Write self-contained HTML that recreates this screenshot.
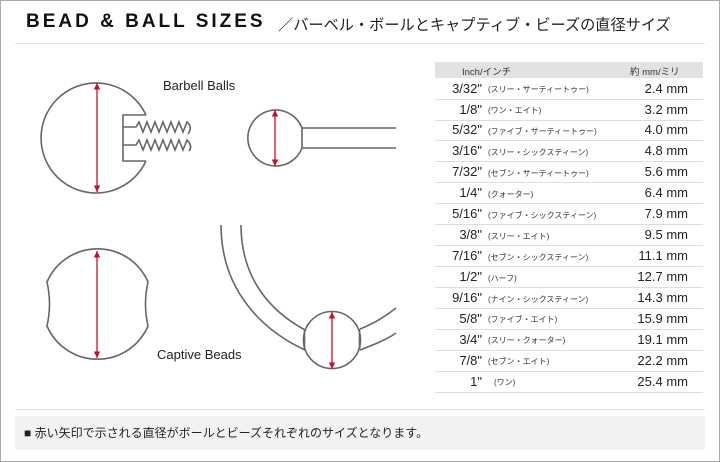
<!DOCTYPE html>
<html><head><meta charset="utf-8"><style>
body{margin:0;width:720px;height:462px;overflow:hidden;background:#fff;font-family:"Liberation Sans","Noto Sans CJK JP",sans-serif;}
.wrap{position:absolute;left:0;top:0;width:718px;height:460px;border:1px solid #aaa;}
.t{position:absolute;white-space:nowrap;}
</style></head><body>
<div class="wrap"></div>
<div class="t" style="left:26px;top:11px;font-size:19px;font-weight:bold;letter-spacing:3px;color:#111;">BEAD &amp; BALL SIZES</div>
<div class="t" style="left:278px;top:13px;font-size:15.2px;color:#222;">／バーベル・ボールとキャプティブ・ビーズの直径サイズ</div>
<div style="position:absolute;left:15px;top:43px;width:690px;height:1px;background:#e4e0da"></div>
<div style="position:absolute;left:15px;top:409px;width:690px;height:1px;background:#e4e0da"></div>
<div style="position:absolute;left:15px;top:416px;width:690px;height:34px;background:#f2f2f2"></div>
<div class="t" style="left:24px;top:424px;font-size:12px;color:#222;">■ 赤い矢印で示される直径がボールとビーズそれぞれのサイズとなります。</div>

<svg style="position:absolute;left:0;top:0" width="720" height="462">
<defs><marker id="a" viewBox="0 0 10 10" refX="10" refY="5" markerWidth="5" markerHeight="5" orient="auto-start-reverse"><path d="M0,0L10,5L0,10z" fill="#c8102e"/></marker></defs>
<g fill="none" stroke="#666" stroke-width="1.6">
<path d="M146,115 A55,55 0 1 0 146,161"/>
<path d="M146,115 L123,115 L123,161 L146,161"/>
<path d="M123,127 L136,127 L139,122 L143,132 L147,122 L151,132 L155,122 L159,132 L163,122 L167,132 L171,122 L175,132 L179,122 L183,132 L187,122 Q193,127 188,134"/>
<path d="M123,145 L136,145 L139,140 L143,150 L147,140 L151,150 L155,140 L159,150 L163,140 L167,150 L171,140 L175,150 L179,140 L183,150 L187,140 Q193,146 189,151"/>
<path d="M302,128 A28,28 0 1 0 302,148 Z"/>
<path d="M302,128 L396,128 M302,148 L396,148"/>
<path d="M47,282 A55,55 0 0 1 148,282 Q143,304 148,326 A55,55 0 0 1 47,326 Q52,304 47,282 Z"/>
<path d="M221,225 C221,290 262,330 305,350"/>
<path d="M241,225 C241,280 272,312 305,330"/>
<path d="M360,329 C373,324 386,316 396,308"/>
<path d="M360,350 C373,345 386,340 396,333"/>
<circle cx="332" cy="340" r="28.5"/>
<path d="M304.5,330 L304.5,350 M359.5,329 L359.5,350"/>
</g>
<g stroke="#c8102e" stroke-width="1.3" marker-start="url(#a)" marker-end="url(#a)">
<line x1="97" y1="83" x2="97" y2="192"/>
<line x1="275" y1="110" x2="275" y2="166"/>
<line x1="97" y1="251" x2="97" y2="358"/>
<line x1="332" y1="312" x2="332" y2="369"/>
</g>
<text x="163" y="90" font-size="13" fill="#222" font-family="Liberation Sans,sans-serif">Barbell Balls</text>
<text x="157" y="359" font-size="13" fill="#222" font-family="Liberation Sans,sans-serif">Captive Beads</text>
</svg>

<div style="position:absolute;left:435px;top:62px;width:268px;height:16px;background:#e2e2e2"></div>
<div class="t" style="left:462px;top:64px;font-size:9.5px;color:#333">Inch/インチ</div>
<div class="t" style="left:630px;top:64px;font-size:9.5px;color:#333">約 mm/ミリ</div>
<div id="rows"></div>
<script>
var d=[["3/32\"","(スリー・サーティートゥー)","2.4"],["1/8\"","(ワン・エイト)","3.2"],["5/32\"","(ファイブ・サーティートゥー)","4.0"],["3/16\"","(スリー・シックスティーン)","4.8"],["7/32\"","(セブン・サーティートゥー)","5.6"],["1/4\"","(クォーター)","6.4"],["5/16\"","(ファイブ・シックスティーン)","7.9"],["3/8\"","(スリー・エイト)","9.5"],["7/16\"","(セブン・シックスティーン)","11.1"],["1/2\"","(ハーフ)","12.7"],["9/16\"","(ナイン・シックスティーン)","14.3"],["5/8\"","(ファイブ・エイト)","15.9"],["3/4\"","(スリー・クォーター)","19.1"],["7/8\"","(セブン・エイト)","22.2"],["1\"","(ワン)","25.4"]];
var h="";
for(var i=0;i<d.length;i++){var y=78+i*20.95;
h+='<div style="position:absolute;left:435px;top:'+(y+20.5).toFixed(1)+'px;width:268px;height:1px;background:#ddd"></div>';
h+='<div class="t" style="left:380px;width:102px;text-align:right;top:'+(y+2.5).toFixed(1)+'px;font-size:13px;color:#222">'+d[i][0]+'</div>';
h+='<div class="t" style="left:'+(i==14?494:488)+'px;top:'+(y+6).toFixed(1)+'px;font-size:8px;color:#333">'+d[i][1]+'</div>';
h+='<div class="t" style="left:587px;width:101px;text-align:right;top:'+(y+2.5).toFixed(1)+'px;font-size:13px;color:#222">'+d[i][2]+' mm</div>';}
document.getElementById("rows").innerHTML=h;
</script>
</body></html>
